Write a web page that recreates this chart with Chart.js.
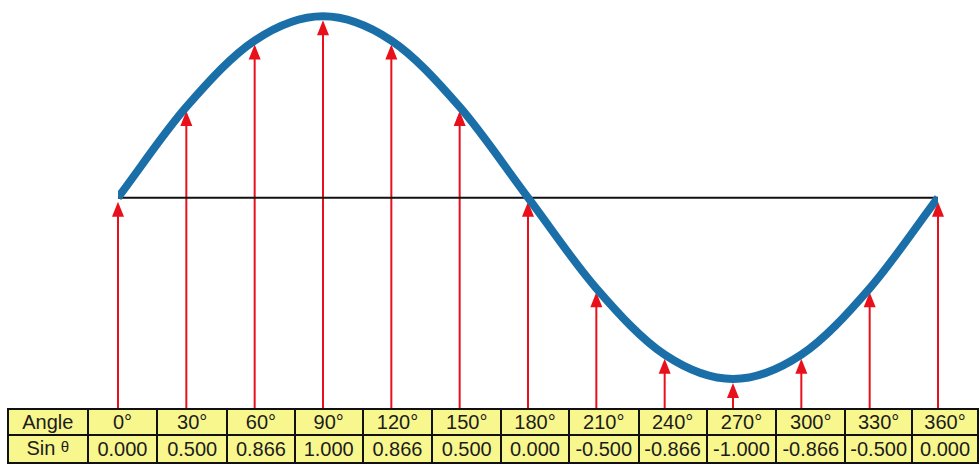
<!DOCTYPE html>
<html>
<head>
<meta charset="utf-8">
<script src="https://cdn.jsdelivr.net/npm/chart.js@4/dist/chart.umd.min.js"></script>
<style>
  body { margin: 0; background: #fff; width: 979px; height: 464px; overflow: hidden; position: relative; }
  #wrap { position: absolute; left: 0; top: 0; width: 979px; height: 408px; }
  table {
    position: absolute; left: 7px; top: 408px;
    border-collapse: collapse; table-layout: fixed;
    font-family: "Liberation Sans", Arial, sans-serif; font-size: 20px; color: #1c1c1c;
  }
  td {
    background: #f8f78e; border: 2px solid #111; height: 24px; padding: 0;
    text-align: center; line-height: 24px; white-space: nowrap; overflow: hidden;
  }
  sup { font-size: 15px; position: relative; top: -3px; vertical-align: baseline; }
</style>
</head>
<body>
<div id="wrap"><canvas id="chart" width="979" height="408"></canvas></div>
<table id="tbl"></table>
<script>
// ---------- data ----------
const angles = [0, 30, 60, 90, 120, 150, 180, 210, 240, 270, 300, 330, 360];
const sinValues = [0, 0.5, 0.866, 1, 0.866, 0.5, 0, -0.5, -0.866, -1, -0.866, -0.5, 0];
const angleLabels = ["0°", "30°", "60°", "90°", "120°", "150°", "180°", "210°", "240°", "270°", "300°", "330°", "360°"];
const sinLabels = ["0.000", "0.500", "0.866", "1.000", "0.866", "0.500", "0.000", "-0.500", "-0.866", "-1.000", "-0.866", "-0.500", "0.000"];
const colWidths = [80, 70, 70, 68, 68, 70, 69, 68, 70, 68, 70, 69, 67, 66];

// ---------- table ----------
const tbl = document.getElementById("tbl");
let row1 = `<tr><td style="width:${colWidths[0] - 2}px">Angle</td>`;
let row2 = `<tr><td>Sin <sup>θ</sup></td>`;
angleLabels.forEach((a, i) => {
  row1 += `<td style="width:${colWidths[i + 1] - 2}px">${a}</td>`;
  row2 += `<td>${sinLabels[i]}</td>`;
});
tbl.innerHTML = row1 + "</tr>" + row2 + "</tr>";

// ---------- arrows plugin ----------
const arrowPlugin = {
  id: "arrows",
  beforeDatasetsDraw(chart) {
    const { ctx, chartArea, scales } = chart;
    ctx.save();
    ctx.strokeStyle = "#e8111b";
    ctx.fillStyle = "#e8111b";
    ctx.lineWidth = 2;
    angles.forEach((a, i) => {
      const x = scales.x.getPixelForValue(a);
      const tip = scales.y.getPixelForValue(sinValues[i]) + 4;
      ctx.beginPath();
      ctx.moveTo(x, chartArea.bottom);
      ctx.lineTo(x, tip + 10);
      ctx.stroke();
      ctx.beginPath();
      ctx.moveTo(x, tip);
      ctx.lineTo(x - 6, tip + 15);
      ctx.lineTo(x + 6, tip + 15);
      ctx.closePath();
      ctx.fill();
    });
    ctx.restore();
  }
};

// ---------- chart ----------
new Chart(document.getElementById("chart"), {
  type: "line",
  data: {
    datasets: [
      {
        data: [{ x: 0, y: 0 }, { x: 364, y: 0 }],
        borderColor: "#111",
        borderWidth: 2,
        pointRadius: 0,
        order: 2
      },
      {
        data: angles.map((a, i) => ({ x: a, y: sinValues[i] })),
        borderColor: "#1b6fa8",
        borderWidth: 8,
        borderCapStyle: "butt",
        cubicInterpolationMode: "monotone",
        pointRadius: 0,
        order: 1
      }
    ]
  },
  options: {
    responsive: false,
    animation: false,
    layout: { padding: { left: 118, right: 41, top: 0, bottom: 0 } },
    plugins: { legend: { display: false }, tooltip: { enabled: false } },
    scales: {
      x: { type: "linear", min: 0, max: 360, display: false },
      y: { min: -1.16, max: 1.09, display: false }
    }
  },
  plugins: [arrowPlugin]
});
</script>
</body>
</html>
